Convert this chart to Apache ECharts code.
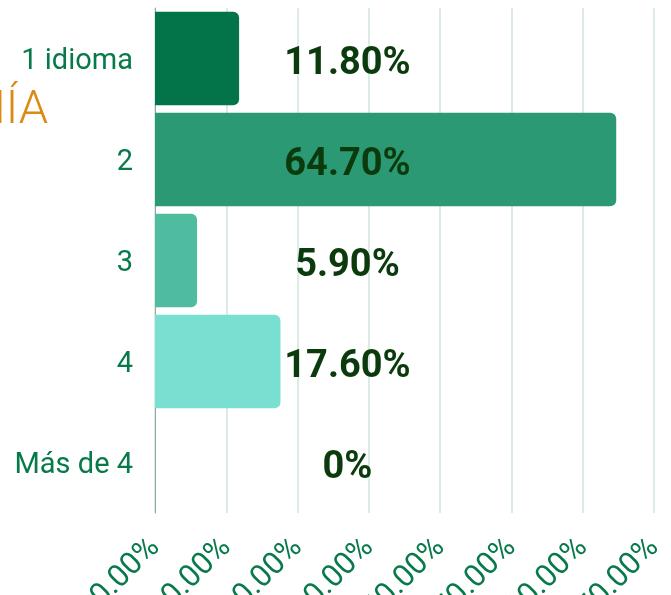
<!DOCTYPE html>
<html>
<head>
<meta charset="utf-8">
<script src="https://cdn.jsdelivr.net/npm/echarts@6/dist/echarts.min.js"></script>
<style>
  html, body { margin: 0; padding: 0; background: #fff; }
  #chart { width: 671px; height: 595px; }
</style>
</head>
<body>
<div id="chart"></div>
<script>
// categorias (numero de idiomas)
var categories = ['1 idioma', '2', '3', '4', 'Más de 4'];
// porcentajes
var values = [11.8, 64.7, 5.9, 17.6, 0];
var valueLabels = ['11.80%', '64.70%', '5.90%', '17.60%', '0%'];
// eje x
var tickLabels = ['0.00%', '10.00%', '20.00%', '30.00%', '40.00%', '50.00%', '60.00%', '70.00%'];
var barColors = ['#03744a', '#2b9a74', '#4fbb9f', '#79dfd1', '#a6ece2'];

var chart = echarts.init(document.getElementById('chart'));

var barData = [];
var labelData = [];
for (var i = 0; i < values.length; i++) {
  barData.push({ value: values[i], itemStyle: { color: barColors[i] } });
  // etiqueta centrada en una posicion fija
  labelData.push({ value: [27, categories[i]], name: valueLabels[i] });
}

var option = {
  animation: false,
  graphic: [{
    type: 'text',
    right: 623,
    top: 88,
    style: {
      text: 'ECONOMÍA',
      fill: '#dc8a12',
      font: '300 47px Roboto'
    }
  }],
  grid: {
    left: 155,
    right: 17,
    top: 8,
    bottom: 82,
    outerBoundsMode: 'none'
  },
  xAxis: {
    type: 'value',
    min: 0,
    max: 70,
    interval: 10,
    axisLine: { show: false },
    axisTick: { show: false },
    splitLine: { lineStyle: { color: '#cfe6de', width: 1.5 } },
    axisLabel: {
      rotate: 45,
      margin: 30,
      color: '#087a4a',
      fontSize: 31,
      fontFamily: 'Roboto',
      formatter: function (v) { return tickLabels[v / 10]; }
    }
  },
  yAxis: {
    type: 'category',
    inverse: true,
    data: categories,
    axisLine: { lineStyle: { color: '#8fa8a0', width: 1 } },
    axisTick: { show: false },
    axisLabel: {
      margin: 22,
      formatter: function (v) { return '{c|' + v + '}'; },
      rich: {
        c: {
          color: '#087a4a',
          fontSize: 29,
          fontFamily: 'Roboto',
          padding: [6, 0, 0, 0]
        }
      }
    }
  },
  series: [{
    type: 'bar',
    data: barData,
    barCategoryGap: '7.5%',
    itemStyle: { borderRadius: [0, 6, 6, 0] }
  }, {
    type: 'scatter',
    data: labelData,
    symbolSize: 0,
    z: 5,
    itemStyle: { opacity: 1 },
    label: {
      show: true,
      position: 'inside',
      offset: [0, 6],
      formatter: function (p) { return p.name; },
      color: '#0b3a0c',
      fontSize: 38,
      fontWeight: 'bold',
      fontFamily: 'Roboto'
    }
  }]
};

chart.setOption(option);
</script>
</body>
</html>
